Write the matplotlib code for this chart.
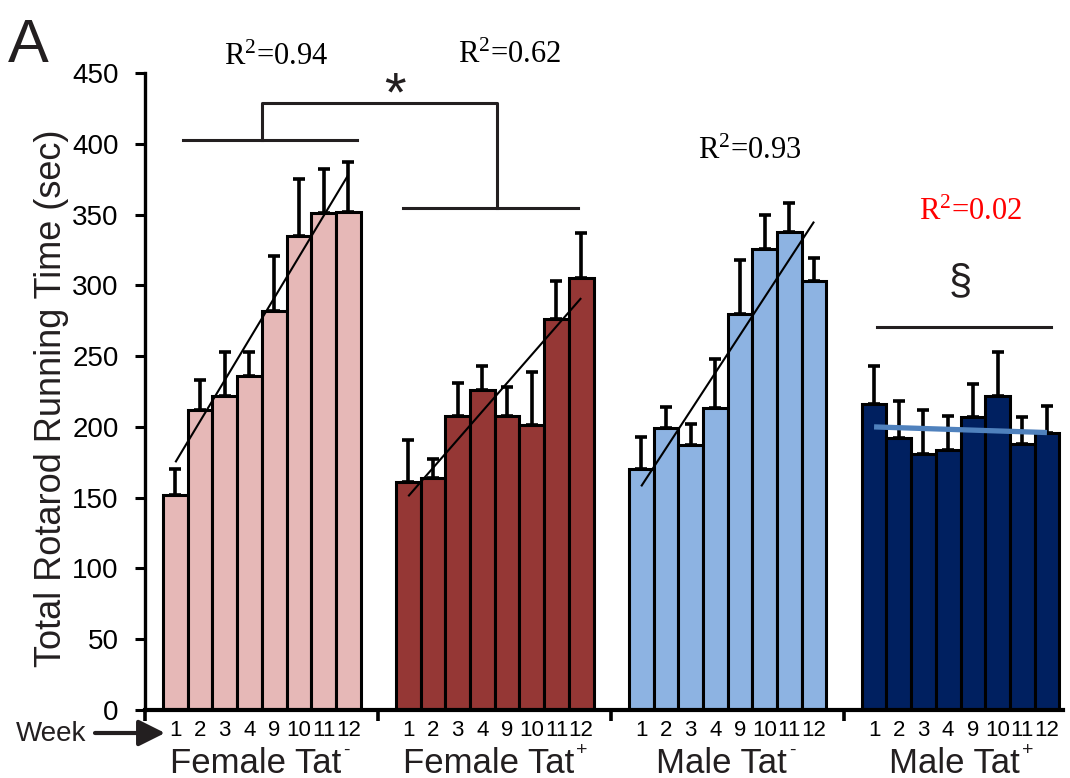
import matplotlib
matplotlib.use('Agg')
import matplotlib.pyplot as plt
import numpy as np
from matplotlib.transforms import blended_transform_factory

plt.rcParams['font.family'] = ['Liberation Sans', 'DejaVu Sans']
plt.rcParams['mathtext.fontset'] = 'custom'
plt.rcParams['mathtext.rm'] = 'Liberation Serif'
plt.rcParams['mathtext.it'] = 'Liberation Serif:italic'
plt.rcParams['mathtext.bf'] = 'Liberation Serif:bold'

# ---------------- data ----------------
weeks = ['1', '2', '3', '4', '9', '10', '11', '12']
group_names = ['Female Tat', 'Female Tat', 'Male Tat', 'Male Tat']
group_sups = ['-', '+', '-', '+']
colors = ['#e6b8b7', '#953735', '#8db3e2', '#002060']

female_neg = [152, 212, 222, 236, 282, 335, 351, 352]
female_neg_err = [18, 21, 31, 17, 39, 40, 31, 35]
female_pos = [161, 164, 208, 226, 208, 201, 276, 305]
female_pos_err = [30, 13, 23, 17, 20, 38, 27, 32]
male_neg = [170, 199, 187, 213, 280, 326, 338, 303]
male_neg_err = [23, 15, 15, 35, 38, 24, 20, 16]
male_pos = [216, 192, 181, 184, 207, 222, 188, 196]
male_pos_err = [27, 26, 31, 24, 23, 31, 19, 19]

# trend line endpoint values (read at first / last bar)
trend_start = [175, 151, 158, 200]
trend_end = [378, 291, 345, 196]
trend_colors = ['black', 'black', 'black', '#4f81bd']
r2_labels = ['R$^{2}$=0.94', 'R$^{2}$=0.62', 'R$^{2}$=0.93', 'R$^{2}$=0.02']
r2_colors = ['black', 'black', 'black', 'red']

values = [female_neg, female_pos, male_neg, male_pos]
errors = [female_neg_err, female_pos_err, male_neg_err, male_pos_err]

# ---------------- layout ----------------
W, H = 1070, 778
fig = plt.figure(figsize=(W / 100, H / 100), dpi=100)
ax = fig.add_axes([145 / W, 1 - 710 / H, 918 / W, 637 / H])

GSTEP = 9.43
TXT = '#231f20'

centers_all = []
for g in range(4):
    x = g * GSTEP + np.arange(8) + 0.5
    centers_all.extend(x)
    v = np.array(values[g], dtype=float)
    e = np.array(errors[g], dtype=float)
    ax.bar(x, v, width=1.0, color=colors[g], edgecolor='black', linewidth=2.2, zorder=2)
    ax.errorbar(x, v, yerr=[np.zeros_like(e), e], fmt='none', ecolor='black',
                elinewidth=2.6, capsize=4.5, capthick=2.6, zorder=3)
    lw = 1.5 if g < 3 else 3.8
    ax.plot([x[0], x[-1]], [trend_start[g], trend_end[g]], color=trend_colors[g],
            lw=lw, zorder=5, solid_capstyle='butt')

ax.set_xlim(-0.73, 36.44)
ax.set_ylim(0, 450)

for s in ['top', 'right']:
    ax.spines[s].set_visible(False)
ax.spines['left'].set_linewidth(2.4)
ax.spines['bottom'].set_linewidth(3.0)

ax.set_yticks(np.arange(0, 451, 50))
ax.tick_params(axis='y', direction='out', length=7, width=2.2, labelsize=20, pad=12)
ax.set_xticks(centers_all)
ax.set_xticklabels(weeks * 4)
ax.tick_params(axis='x', which='major', length=0, labelsize=16, pad=7)
seps = [-0.73] + [g * GSTEP + 8 + (GSTEP - 8) / 2 for g in range(3)]
ax.set_xticks(seps, minor=True)
ax.tick_params(axis='x', which='minor', direction='out', length=8, width=2.6)

# ---------------- annotations ----------------
lk = dict(color=TXT, lw=2.2, clip_on=False, solid_capstyle='projecting', zorder=6)
ax.plot([0.8, 7.85], [403, 403], **lk)
ax.plot([4, 4, GSTEP + 4.09, GSTEP + 4.09], [403, 429, 429, 354.6], **lk)
ax.plot([GSTEP + 0.28, GSTEP + 7.37], [354.6, 354.6], **lk)
ax.text(GSTEP - 0.05, 423.4, '*', fontsize=40, ha='center', va='baseline', color=TXT, clip_on=False)

ax.plot([3 * GSTEP + 0.6, 3 * GSTEP + 7.65], [270.6, 270.6], **lk)
ax.text(3 * GSTEP + 3.98, 294.5, '\u00a7', fontsize=30, ha='center', va='baseline', color=TXT, clip_on=False)

r2_pos = [(4.57, 461), (4.6, 462.7), (4.9, 394.9), (4.4, 351.8)]
for g in range(4):
    dx, yy = r2_pos[g]
    ax.text(g * GSTEP + dx, yy, r2_labels[g], fontsize=22, family='Liberation Serif',
            color=r2_colors[g], ha='center', va='center', clip_on=False)

bt = blended_transform_factory(ax.transData, fig.transFigure)
for g in range(4):
    t = ax.text(g * GSTEP + 4 - 0.25, 1 - 773 / H, group_names[g], transform=bt,
                fontsize=25, ha='center', va='baseline', color=TXT)
    ax.annotate(group_sups[g], xy=(1.0, 0.9), xycoords=t, xytext=(1.5, 0),
                textcoords='offset points', ha='left', va='center', fontsize=14, color=TXT)

fig.text(52 / W, 1 - 398 / H, 'Total Rotarod Running Time (sec)', rotation=90,
         ha='center', va='center', fontsize=26, color=TXT)
fig.text(8 / W, 1 - 62 / H, 'A', fontsize=44, va='baseline', ha='left', color=TXT)
fig.text(16 / W, 1 - 741 / H, 'Week', fontsize=20, va='baseline', ha='left', color=TXT)
ax.annotate('', xy=(165 / W, 1 - 733 / H), xytext=(95 / W, 1 - 733 / H),
            xycoords='figure fraction', textcoords='figure fraction',
            arrowprops=dict(arrowstyle='-|>,head_length=0.8,head_width=0.4', lw=3,
                            color=TXT, mutation_scale=20, shrinkA=0, shrinkB=0))

fig.savefig('out.png', dpi=100)
